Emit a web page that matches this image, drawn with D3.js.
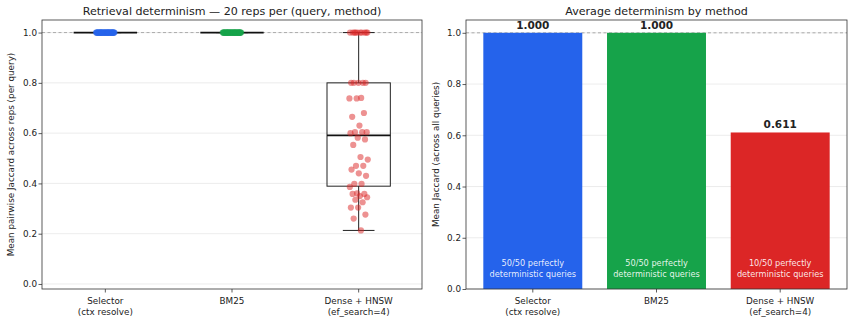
<!DOCTYPE html>
<html lang="en">
<head>
  <meta charset="UTF-8">
  <title>Retrieval determinism</title>
  <script src="https://d3js.org/d3.v7.min.js"></script>
  <style>
    body { margin: 0; background: #fff; font-family: "DejaVu Sans", sans-serif; }
    text { font-family: "DejaVu Sans", sans-serif; fill: #222; }
  </style>
</head>
<body>
  <div id="chart"></div>
  <script>
    // data
    const methods = ["Selector\n(ctx resolve)", "BM25", "Dense + HNSW\n(ef_search=4)"];
    const colors = ["#2563eb", "#16a34a", "#dc2626"];
    const selectorScores = Array(50).fill(1.0);
    const bm25Scores = Array(50).fill(1.0);
    const denseScores = [
      0.213, 0.26, 0.276, 0.304, 0.304, 0.325, 0.335, 0.345, 0.35, 0.358,
      0.358, 0.36, 0.386, 0.398, 0.398, 0.43, 0.44, 0.455, 0.47, 0.47,
      0.495, 0.505, 0.553, 0.575, 0.582, 0.600, 0.604, 0.604, 0.604, 0.63,
      0.665, 0.68, 0.738, 0.738, 0.74, 0.80, 0.80, 0.80, 0.80, 0.80,
      1.0, 1.0, 1.0, 1.0, 1.0, 1.0, 1.0, 1.0, 1.0, 1.0
    ];
    const perfectCounts = ["50/50", "50/50", "10/50"];
    const yTicks = [0.0, 0.2, 0.4, 0.6, 0.8, 1.0];

    const allScores = [selectorScores, bm25Scores, denseScores];
    const means = allScores.map(s => d3.mean(s));

    const W = 855, H = 324;
    const svg = d3.select("#chart").append("svg")
      .attr("width", W).attr("height", H);

    const plotTop = 20, plotBottom = 289;
    const fmt1 = d3.format(".1f");

    function frame(g, x0, x1, y) {
      // grid
      g.selectAll(".grid").data(yTicks).enter().append("line")
        .attr("x1", x0).attr("x2", x1)
        .attr("y1", d => y(d)).attr("y2", d => y(d))
        .attr("stroke", "#b0b0b0").attr("stroke-opacity", 0.3).attr("stroke-width", 0.8);
      // dashed line at 1.0
      g.append("line")
        .attr("x1", x0).attr("x2", x1).attr("y1", y(1)).attr("y2", y(1))
        .attr("stroke", "#999").attr("stroke-width", 0.8).attr("stroke-dasharray", "3,2.5");
      g.append("g")
        .attr("transform", `translate(${x0},0)`)
        .call(d3.axisLeft(y).tickValues(yTicks).tickFormat(fmt1).tickSize(3.5).tickSizeOuter(0))
        .call(a => a.select(".domain").remove())
        .call(a => a.selectAll("line").attr("stroke", "#333").attr("stroke-width", 0.8))
        .call(a => a.selectAll("text").style("font-size", "8.8px").attr("fill", "#222").attr("x", -5));
    }

    function spines(g, x0, x1) {
      g.append("rect")
        .attr("x", x0).attr("y", plotTop).attr("width", x1 - x0).attr("height", plotBottom - plotTop)
        .attr("fill", "none").attr("stroke", "#333").attr("stroke-width", 0.8);
    }

    function xLabels(g, x) {
      methods.forEach((m, i) => {
        const cx = x(i);
        g.append("line").attr("x1", cx).attr("x2", cx).attr("y1", plotBottom).attr("y2", plotBottom + 3.5)
          .attr("stroke", "#333").attr("stroke-width", 0.8);
        const t = g.append("text").attr("text-anchor", "middle").style("font-size", "8.8px");
        m.split("\n").forEach((line, j) => {
          t.append("tspan").attr("x", cx).attr("y", plotBottom + 15 + j * 11).text(line);
        });
      });
    }

    // ---------- left: box + strip ----------
    const L0 = 42, L1 = 422;
    const xL = d3.scaleLinear().domain([-0.5, 2.5]).range([L0, L1]);
    const yL = d3.scaleLinear().domain([-0.02, 1.05]).range([plotBottom, plotTop]);
    const gL = svg.append("g");
    frame(gL, L0, L1, yL);

    const boxW = 0.5;
    allScores.forEach((scores, i) => {
      const s = scores.slice().sort(d3.ascending);
      const q1 = d3.quantile(s, 0.25), med = d3.quantile(s, 0.5), q3 = d3.quantile(s, 0.75);
      const iqr = q3 - q1;
      const lo = d3.min(s.filter(v => v >= q1 - 1.5 * iqr));
      const hi = d3.max(s.filter(v => v <= q3 + 1.5 * iqr));
      const cx = xL(i), half = xL(boxW / 2) - xL(0), cap = half / 2;
      const g = gL.append("g").attr("stroke", "#222").attr("fill", "none");
      g.append("rect").attr("x", cx - half).attr("y", yL(q3))
        .attr("width", 2 * half).attr("height", yL(q1) - yL(q3)).attr("stroke-width", 1);
      g.append("line").attr("x1", cx).attr("x2", cx).attr("y1", yL(q3)).attr("y2", yL(hi)).attr("stroke-width", 1);
      g.append("line").attr("x1", cx).attr("x2", cx).attr("y1", yL(q1)).attr("y2", yL(lo)).attr("stroke-width", 1);
      g.append("line").attr("x1", cx - cap).attr("x2", cx + cap).attr("y1", yL(hi)).attr("y2", yL(hi)).attr("stroke-width", 1);
      g.append("line").attr("x1", cx - cap).attr("x2", cx + cap).attr("y1", yL(lo)).attr("y2", yL(lo)).attr("stroke-width", 1);
      g.append("line").attr("x1", cx - half).attr("x2", cx + half).attr("y1", yL(med)).attr("y2", yL(med))
        .attr("stroke", "#111").attr("stroke-width", 1.8);
    });

    // deterministic jitter (golden-ratio sequence)
    const jitter = k => (((k * 0.6180339) % 1) - 0.5) * 0.15;
    allScores.forEach((scores, i) => {
      gL.append("g").selectAll("circle").data(scores).enter().append("circle")
        .attr("cx", (d, k) => xL(i + jitter(k + 1)))
        .attr("cy", d => yL(d))
        .attr("r", 3.1)
        .attr("fill", colors[i]).attr("fill-opacity", 0.5);
    });

    spines(gL, L0, L1);
    xLabels(gL, xL);
    gL.append("text").attr("x", (L0 + L1) / 2).attr("y", 15).attr("text-anchor", "middle")
      .style("font-size", "11.1px").text("Retrieval determinism — 20 reps per (query, method)");
    gL.append("text").attr("transform", `translate(14,${(plotTop + plotBottom) / 2}) rotate(-90)`)
      .attr("text-anchor", "middle").style("font-size", "8.8px")
      .text("Mean pairwise Jaccard across reps (per query)");

    // ---------- right: bars ----------
    const R0 = 466, R1 = 847;
    const xR = d3.scaleLinear().domain([-0.54, 2.54]).range([R0, R1]);
    const yR = d3.scaleLinear().domain([0, 1.05]).range([plotBottom, plotTop]);
    const gR = svg.append("g");
    frame(gR, R0, R1, yR);

    const bw = xR(0.4) - xR(-0.4);
    gR.selectAll(".bar").data(means).enter().append("rect")
      .attr("x", (d, i) => xR(i) - bw / 2)
      .attr("y", d => yR(d))
      .attr("width", bw)
      .attr("height", d => yR(0) - yR(d))
      .attr("fill", (d, i) => colors[i]);

    gR.selectAll(".val").data(means).enter().append("text")
      .attr("x", (d, i) => xR(i)).attr("y", d => yR(d) - 4)
      .attr("text-anchor", "middle").style("font-size", "10.5px").style("font-weight", "bold")
      .text(d => d3.format(".3f")(d));

    perfectCounts.forEach((c, i) => {
      const t = gR.append("text").attr("text-anchor", "middle").style("font-size", "8.2px")
        .style("fill", "#fff").attr("fill-opacity", 0.9);
      [`${c} perfectly`, "deterministic queries"].forEach((line, j) => {
        t.append("tspan").attr("x", xR(i)).attr("y", yR(0.08) - 2.5 + j * 11).text(line);
      });
    });

    spines(gR, R0, R1);
    xLabels(gR, xR);
    gR.append("text").attr("x", (R0 + R1) / 2).attr("y", 15).attr("text-anchor", "middle")
      .style("font-size", "11.1px").text("Average determinism by method");
    gR.append("text").attr("transform", `translate(439,${(plotTop + plotBottom) / 2}) rotate(-90)`)
      .attr("text-anchor", "middle").style("font-size", "8.8px")
      .text("Mean Jaccard (across all queries)");
  </script>
</body>
</html>
